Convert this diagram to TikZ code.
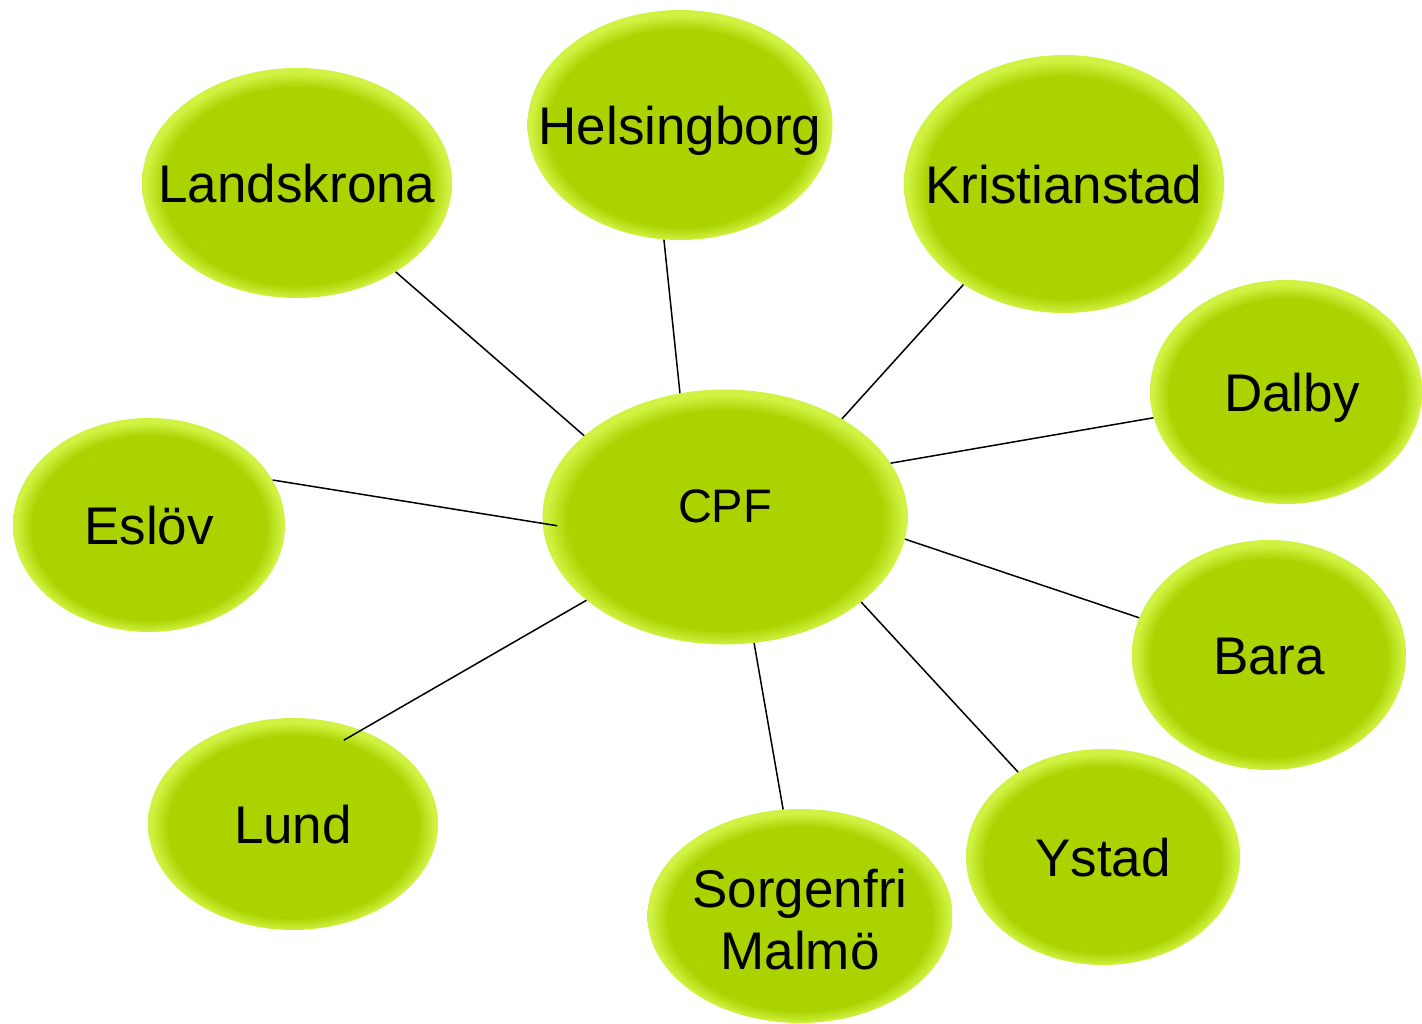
\documentclass[tikz,border=0pt]{standalone}
\usepackage{fontspec}
\setmainfont{Liberation Sans}
\usetikzlibrary{shapes.geometric}
\definecolor{bodyC}{RGB}{170,211,0}
\definecolor{rimC}{RGB}{208,242,66}
\pgfdeclareradialshading{bubbleshade}{\pgfpoint{0bp}{-1.2bp}}{color(0bp)=(bodyC); color(21.5bp)=(bodyC); color(24.5bp)=(rimC); color(50bp)=(rimC)}
\tikzset{
  bubble/.style={ellipse, inner sep=0pt, shade, shading=bubbleshade, font=\fontsize{53}{62}\selectfont, text height=38pt, text depth=0pt},
  conn/.style={line width=1.5pt, black}
}
\newcommand{\zb}[1]{\makebox[0pt]{#1}}
\begin{document}
\begin{tikzpicture}[x=1pt, y=-1pt]
\useasboundingbox (0,0) rectangle (1422,1023);
\node[bubble, minimum width=310pt, minimum height=230pt] (land) at (297,183) {\zb{Landskrona}};
\node[bubble, minimum width=305pt, minimum height=230pt] (hel) at (680,125) {\zb{Helsingborg}};
\node[bubble, minimum width=320pt, minimum height=258pt] (kri) at (1064,184) {\zb{Kristianstad}};
\node[bubble, minimum width=272pt, minimum height=224pt] (dal) at (1286,392) {\zb{\hspace{12pt}Dalby}};
\node[bubble, minimum width=272pt, minimum height=214pt] (esl) at (149,525) {\zb{Eslöv}};
\node[bubble, minimum width=365pt, minimum height=255pt, font=\fontsize{47}{55}\selectfont, text height=34pt] (cpf) at (725,517) {\zb{\raisebox{12pt}{CPF}}};
\node[bubble, minimum width=274pt, minimum height=230pt] (bar) at (1269,655) {\zb{Bara}};
\node[bubble, minimum width=290pt, minimum height=212pt] (lund) at (293,824) {\zb{Lund}};
\node[bubble, minimum width=305pt, minimum height=214pt, text height=, text depth=] (sor) at (800,916) {\zb{\raisebox{0pt}[\dimexpr\height+20pt\relax][\depth]{\begin{tabular}{@{}c@{}}Sorgenfri\\Malmö\end{tabular}}}};
\node[bubble, minimum width=274pt, minimum height=216pt] (yst) at (1103,857) {\zb{Ystad}};
\draw[conn] (cpf.150) -- (land.-42);
\draw[conn] (cpf.110) -- (hel.-98);
\draw[conn] (cpf.40) -- (kri.225);
\draw[conn] (cpf.18) -- (dal.191);
\draw[conn] (cpf.-7) -- (bar.164);
\draw[conn] (cpf.-32) -- (yst.135);
\draw[conn] (cpf.-77) -- (sor.99);
\draw[conn, shorten >=-20pt] (cpf.211) -- (lund.54);
\draw[conn, shorten <=-15pt] (cpf.182) -- (esl.20);
\end{tikzpicture}
\end{document}
